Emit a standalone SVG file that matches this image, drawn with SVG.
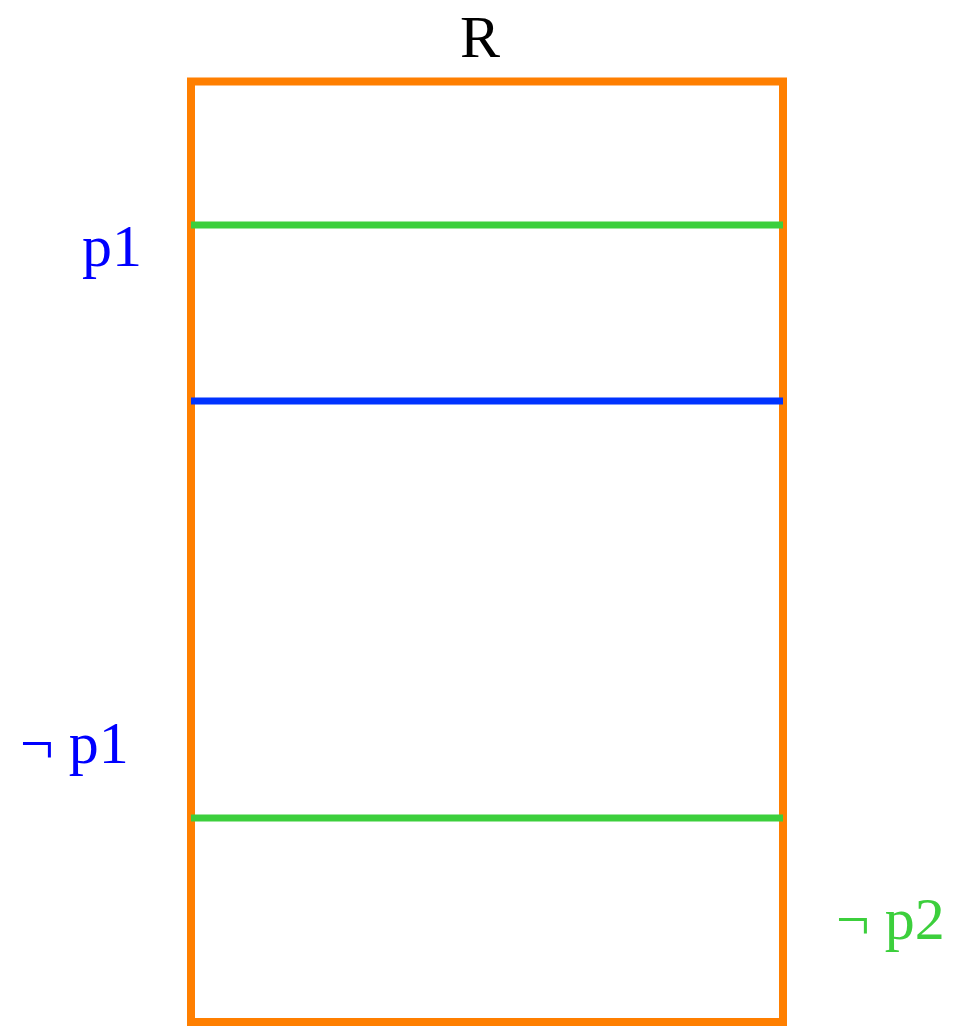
<svg xmlns="http://www.w3.org/2000/svg" width="958" height="1026" viewBox="0 0 958 1026">
<style>
.t{font-family:'Liberation Serif', serif;font-size:60px}
.blue{fill:#0000ff}
.green{fill:#3ccf3c}
.ln{stroke-width:7;fill:none}
</style>
<rect width="958" height="1026" fill="#ffffff"/>
<g id="R">
<rect x="191" y="81.5" width="592" height="940.5" fill="none" stroke="#ff7f00" stroke-width="8"/>
<text class="t" font-family="Liberation Serif" x="480" y="57" text-anchor="middle" fill="#000000">R</text>
</g>
<g id="connectors">
<line class="ln" x1="191" y1="225" x2="783" y2="225" stroke="#3ccf3c"/>
<line class="ln" x1="191" y1="401" x2="783" y2="401" stroke="#0033ff"/>
<line class="ln" x1="191" y1="818" x2="783" y2="818" stroke="#3ccf3c"/>
</g>
<g id="p1"><text x="82" y="266" class="t blue">p1</text></g>
<g id="not-p1"><text x="20" y="763" class="t blue">¬ p1</text></g>
<g id="not-p2"><text x="836" y="939" class="t green">¬ p2</text></g>
</svg>
